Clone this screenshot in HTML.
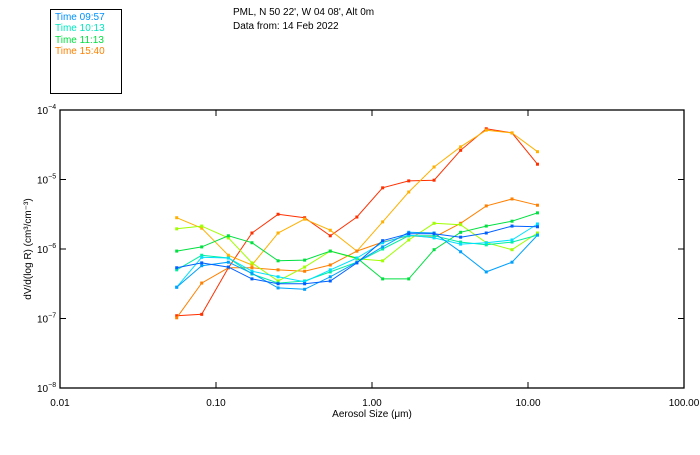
<!DOCTYPE html>
<html><head><meta charset="utf-8"><style>
body{margin:0;background:#fff;}
svg text{font-family:"Liberation Sans",sans-serif;font-size:10px;}
</style></head><body>
<svg id="chart" width="700" height="450" xmlns="http://www.w3.org/2000/svg">
<rect x="0" y="0" width="700" height="450" fill="#fff"/>
<g>
<rect x="50.5" y="9.5" width="71" height="84" fill="none" stroke="#000"/>
<text x="55" y="20" fill="#0090ff">Time 09:57</text>
<text x="55" y="31" fill="#00e8c0">Time 10:13</text>
<text x="55" y="43" fill="#00e040">Time 11:13</text>
<text x="55" y="54" fill="#ff8000">Time 15:40</text>
</g>
<text x="233" y="15">PML, N 50 22', W 04 08', Alt 0m</text>
<text x="233" y="29">Data from: 14 Feb 2022</text>
<g id="axes"></g>
<g id="series"></g>
<text x="372" y="417" text-anchor="middle">Aerosol Size (μm)</text>
<text transform="translate(31,249) rotate(-90)" text-anchor="middle">dV/d(log R) (cm³/cm⁻³)</text>
</svg>
<script>
const sizes=[0.056,0.081,0.12,0.17,0.25,0.37,0.54,0.80,1.17,1.72,2.5,3.7,5.4,7.9,11.5];
const xTicks=[0.01,0.1,1,10,100];
const xTickLabels=["0.01","0.10","1.00","10.00","100.00"];
const yTicks=[-4,-5,-6,-7,-8];
const seriesColors=["#ff3000","#ffb000","#ff8000","#a0ff00","#00e040","#00f0a0","#00e0ff","#00a0ff","#0060ff"];
// log10 of dV/dlogR for each series
const sRed=[-6.96,-6.94,-6.27,-5.77,-5.50,-5.55,-5.81,-5.54,-5.12,-5.02,-5.01,-4.58,-4.27,-4.33,-4.78];
const sGold=[-5.55,-5.70,-6.09,-6.23,-5.77,-5.57,-5.73,-6.03,-5.61,-5.18,-4.82,-4.53,-4.29,-4.33,-4.60];
const sOrange=[-6.99,-6.49,-6.27,-6.27,-6.30,-6.32,-6.23,-6.03,-5.90,-5.81,-5.83,-5.63,-5.38,-5.28,-5.37];
const sYellowGreen=[-5.71,-5.67,-5.84,-6.20,-6.46,-6.26,-6.03,-6.14,-6.17,-5.87,-5.63,-5.65,-5.91,-6.01,-5.77];
const sGreen=[-6.03,-5.97,-5.81,-5.91,-6.17,-6.16,-6.03,-6.13,-6.43,-6.43,-6.01,-5.76,-5.67,-5.60,-5.48];
const sTeal=[-6.30,-6.09,-6.13,-6.36,-6.49,-6.46,-6.33,-6.19,-6.00,-5.81,-5.81,-5.90,-5.94,-5.90,-5.80];
const sCyan=[-6.55,-6.12,-6.13,-6.32,-6.40,-6.47,-6.30,-6.13,-5.91,-5.80,-5.84,-5.93,-5.91,-5.87,-5.64];
const sLightBlue=[-6.55,-6.24,-6.19,-6.35,-6.56,-6.58,-6.40,-6.19,-5.97,-5.76,-5.77,-6.04,-6.33,-6.19,-5.80];
const sBlue=[-6.27,-6.20,-6.26,-6.43,-6.50,-6.50,-6.46,-6.20,-5.88,-5.78,-5.78,-5.83,-5.77,-5.67,-5.68];
const allSeries=[sRed,sGold,sOrange,sYellowGreen,sGreen,sTeal,sCyan,sLightBlue,sBlue];
const seriesNames=["red","gold","orange","yellow-green","green","teal","cyan","light-blue","blue"];

const L=60,R=684,T=110,B=388;
const NS="http://www.w3.org/2000/svg";
const xs=v=>L+(Math.log10(v)+2)/4*(R-L);
const ys=e=>T+(-4-e)/4*(B-T);
function mk(tag,attrs,parent){const e=document.createElementNS(NS,tag);for(const k in attrs)e.setAttribute(k,attrs[k]);parent.appendChild(e);return e;}
const ax=document.getElementById('axes');
const frame=mk('rect',{x:L,y:T,width:R-L,height:B-T,fill:'none',stroke:'#000','stroke-width':1.3},ax);


xTicks.forEach((t,i)=>{
  const x=xs(t);
  if(i>0&&i<xTicks.length-1){
    const a=mk('line',{x1:x,x2:x,y1:B,y2:B-6,stroke:'#000'},ax);
    
    
    const b=mk('line',{x1:x,x2:x,y1:T,y2:T+6,stroke:'#000'},ax);
    
    
  }
  const tx=mk('text',{x:x,y:B+18,'text-anchor':'middle'},ax);
  tx.textContent=xTickLabels[i];
  
  
});
yTicks.forEach((t,i)=>{
  const y=ys(t);
  if(i>0&&i<yTicks.length-1){
    const a=mk('line',{x1:L,x2:L+6,y1:y,y2:y,stroke:'#000'},ax);
    
    
    const b=mk('line',{x1:R,x2:R-6,y1:y,y2:y,stroke:'#000'},ax);
    
    
  }
  const tx=mk('text',{x:L-23,y:y+4,'font-size':'10px'},ax);
  
  
  tx.textContent='10';
  const sp=mk('tspan',{dy:-5,'font-size':'7px'},tx);
  sp.textContent='−'+(-t);
});
const sg=document.getElementById('series');
allSeries.forEach((s,si)=>{
  const g=mk('g',{},sg);
  
  
  const pts=s.map((e,i)=>xs(sizes[i]).toFixed(1)+','+ys(e).toFixed(1)).join(' ');
  const pl=mk('polyline',{points:pts,fill:'none',stroke:seriesColors[si],'stroke-width':1},g);
  
  
  s.forEach((e,i)=>{
    const r=mk('rect',{x:xs(sizes[i])-1.5,y:ys(e)-1.5,width:3,height:3,fill:seriesColors[si]},g);
    
    
  });
});
</script>
</body></html>
